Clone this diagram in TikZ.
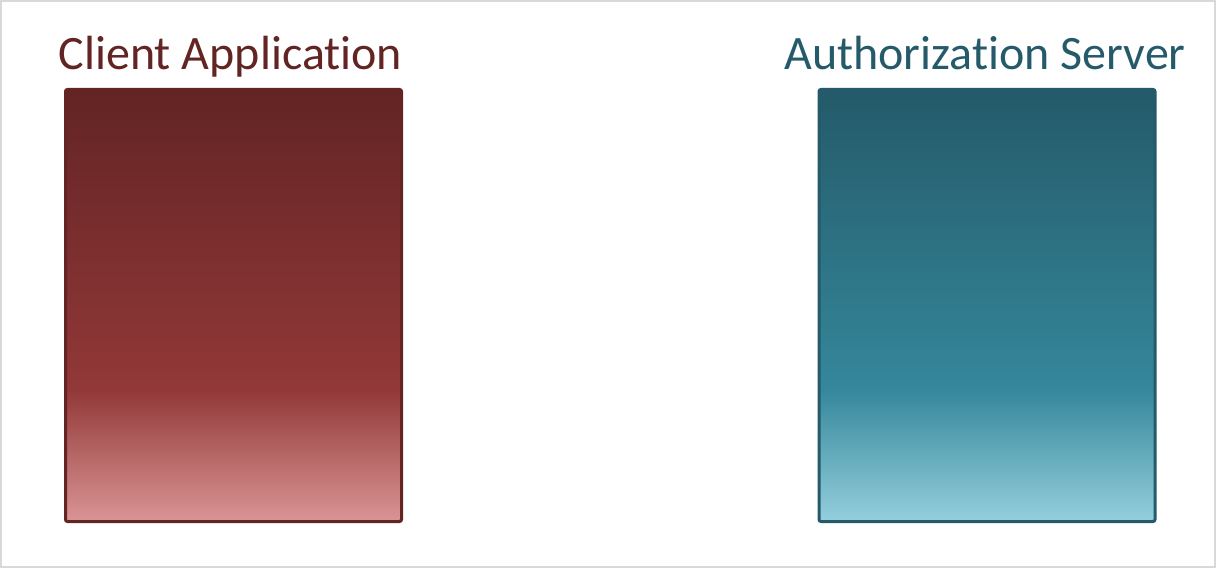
\documentclass[tikz,border=0pt]{standalone}
\usepackage{fontspec}
\setmainfont{Carlito}[Ligatures=NoCommon]
\usetikzlibrary{positioning}

\definecolor{clienttop}{HTML}{632424}
\definecolor{clientmid}{HTML}{923838}
\definecolor{clientlow}{HTML}{D99594}
\definecolor{servertop}{HTML}{245A69}
\definecolor{servermid}{HTML}{35879B}
\definecolor{serverlow}{HTML}{94CFDD}
\definecolor{frame}{HTML}{D9D9D9}

% path box is mapped onto 25bp--75bp of the shading
\pgfdeclareverticalshading{clientfill}{100bp}{color(0bp)=(clientlow); color(25bp)=(clientlow);
	color(40.3bp)=(clientmid); color(75bp)=(clienttop); color(100bp)=(clienttop)}
\pgfdeclareverticalshading{serverfill}{100bp}{color(0bp)=(serverlow); color(25bp)=(serverlow);
	color(40.3bp)=(servermid); color(75bp)=(servertop); color(100bp)=(servertop)}

\begin{document}
\begin{tikzpicture}[
		x=1pt, y=1pt,
		party/.style={rectangle, line width=3pt, rounded corners=2pt,
			minimum width=336pt, minimum height=432pt, inner sep=0pt},
		title/.style={font=\fontsize{48}{58}\selectfont, anchor=base}
		]
		\draw[frame, line width=2pt] (1,1) rectangle (1215,567);
		\useasboundingbox (0,0) rectangle (1216,568);
		\node[party, draw=clienttop, shading=clientfill] (client) at (233.5,262.5) {};
		\node[party, draw=servertop, shading=serverfill] (server) at (987,262.5) {};
		\node[title, text=clienttop] (clientlabel) at ([xshift=-3pt,yshift=18pt]client.north) {Client Application};
		\node[title, text=servertop] (serverlabel) at ([xshift=-2pt,yshift=18pt]server.north) {Authorization Server};
	\end{tikzpicture}
\end{document}
